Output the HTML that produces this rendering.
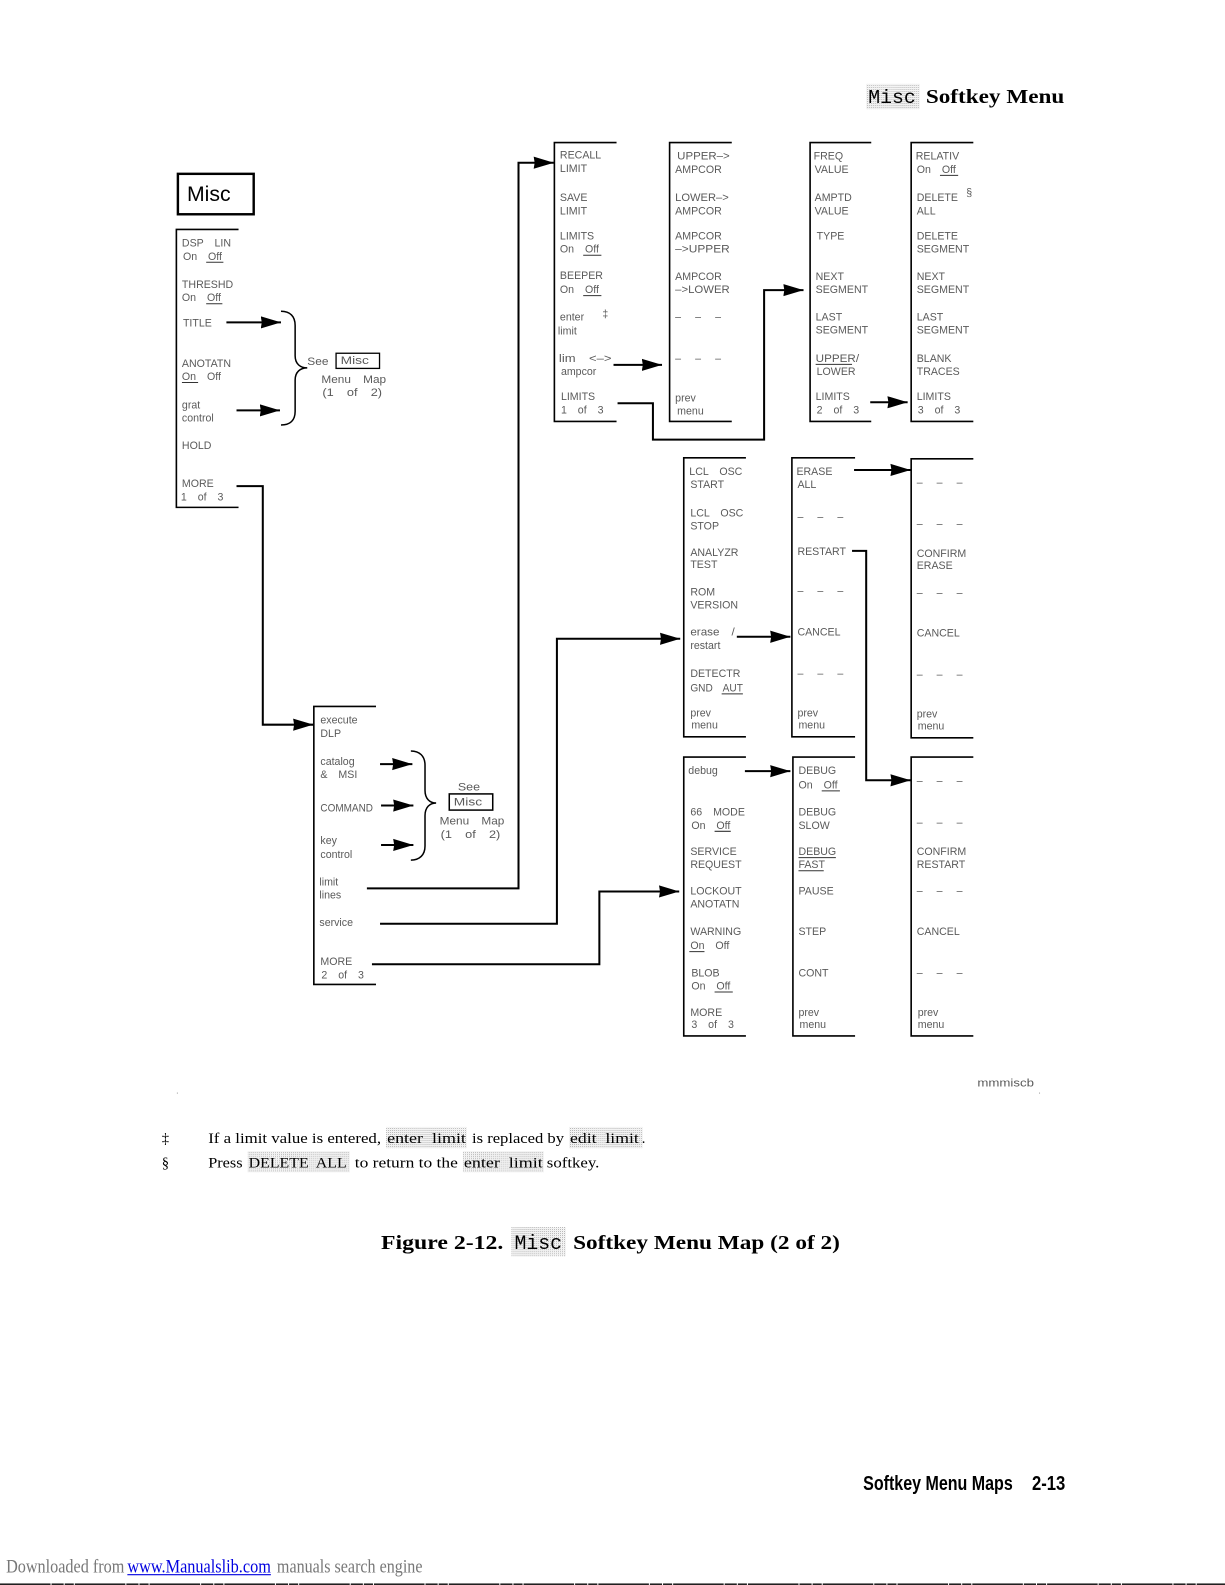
<!DOCTYPE html>
<html><head><meta charset="utf-8"><title>Misc Softkey Menu Map</title>
<style>
html,body{margin:0;padding:0;background:#fff;width:1225px;height:1585px;overflow:hidden}
svg{display:block}
text{white-space:pre}
.l text{font:10.5px "Liberation Sans",sans-serif;fill:#5a5a5a;word-spacing:2.5px}
.l text.d{word-spacing:11px}
.b{fill:none;stroke:#000;stroke-width:1.6}
.u{stroke:#333;stroke-width:1;fill:none}
.a{fill:none;stroke:#000;stroke-width:2;marker-end:url(#h)}
.c{fill:none;stroke:#000;stroke-width:1.5}
.s{font-family:"Liberation Serif",serif;font-size:14.5px;fill:#000}
.t{font-family:"Liberation Serif",serif;font-weight:bold;fill:#000}
.m{font-family:"Liberation Mono",monospace;fill:#000}
</style></head><body>
<svg xmlns="http://www.w3.org/2000/svg" width="1225" height="1585" viewBox="0 0 1212 1568.2">
<defs>
<marker id="h" markerUnits="userSpaceOnUse" markerWidth="21" markerHeight="13" refX="20" refY="6.5" orient="auto"><polygon points="0,0.5 20,6.5 0,12.5 1,6.5" fill="#000"/></marker>
<pattern id="p" width="2" height="2" patternUnits="userSpaceOnUse"><rect width="2" height="2" fill="#fff"/><rect width="1" height="1" fill="#aaa"/><rect x="1" y="1" width="1" height="1" fill="#eee"/></pattern>
</defs>
<rect width="1212" height="1569" fill="#fff"/>

<!-- header -->
<rect x="857" y="83" width="53" height="25" fill="url(#p)"/>
<text class="m" x="859" y="102" font-size="19" textLength="47" lengthAdjust="spacingAndGlyphs">Misc</text>
<text class="t" x="916" y="102" font-size="20" textLength="137" lengthAdjust="spacingAndGlyphs">Softkey Menu</text>

<!-- Misc key -->
<rect x="176" y="172" width="75" height="40" fill="none" stroke="#000" stroke-width="2.4"/>
<text x="185" y="199" font-family="Liberation Sans, sans-serif" font-size="21" fill="#000">Misc</text>

<!-- menu frames -->
<path class="b" d="M236,227H174.5V502H236M610,141H548.5V417H610M724,141H662.5V417H724M862,141H801.5V417H862M963,141H901.5V417H963M738,453H676.5V729H738M846,453H783.5V729H846M963,454H901.5V730H963M738,749H676.5V1025H738M846,749H784.5V1025H846M963,749H901.5V1025H963M372,699H310.5V974H372"/>

<!-- braces -->
<path class="c" d="M278,308C287,308 292,313 292,322V352C292,360 297,364 304,364C297,364 292,368 292,376V407C292,416 287,420.5 278,420.5"/>
<path class="c" d="M406.5,743C415,743 420.5,748 420.5,757V782C420.5,790 425,794.5 431.5,794.5C425,794.5 420.5,799 420.5,807V837C420.5,846 415,851 406.5,851"/>

<!-- See boxes -->
<rect x="332.5" y="349.5" width="43" height="15" fill="none" stroke="#000" stroke-width="1.3"/>
<rect x="444.5" y="785.5" width="43" height="16" fill="none" stroke="#000" stroke-width="1.5"/>

<!-- connectors -->
<path class="a" d="M224,319H278"/>
<path class="a" d="M234,406H277"/>
<path class="a" d="M234,481H260V717H310"/>
<path class="a" d="M363,879H513V161H548"/>
<path class="a" d="M376,914H551V632H673"/>
<path class="a" d="M368,954H593V882H672"/>
<path class="a" d="M607,361H655"/>
<path class="a" d="M611,399H646V435H756V287H795"/>
<path class="a" d="M861,398H898"/>
<path class="a" d="M845,465H901"/>
<path class="a" d="M843,545H857V772H901"/>
<path class="a" d="M729,630H782"/>
<path class="a" d="M737,763H782"/>
<path class="a" d="M376,756H408"/>
<path class="a" d="M377,797H409"/>
<path class="a" d="M377,836H409"/>

<!-- underlines -->
<path class="u" d="M204,259.5H221M204,300.5H220M180,378.5H196M577,252.5H595M577,292.5H595M930,173.5H948M807,360.5H843M714,686.5H735M707,822.5H723M682,941.5H697M707,981.5H725M813,782.5H831M790,848.5H827M790,861.5H815"/>

<g class="l">
<!-- menu 1 -->
<text x="180" y="244">DSP  LIN</text><text x="181" y="257">On  Off</text>
<text x="180" y="285">THRESHD</text><text x="180" y="298">On  Off</text>
<text x="181" y="323">TITLE</text>
<text x="180" y="363">ANOTATN</text><text x="180" y="376">On  Off</text>
<text x="180" y="404">grat</text><text x="180" y="417">control</text>
<text x="180" y="444">HOLD</text>
<text x="180" y="482">MORE</text><text x="179" y="495">1  of  3</text>
<text x="304" y="361" textLength="21" lengthAdjust="spacingAndGlyphs">See</text><text x="337" y="360" textLength="28" lengthAdjust="spacingAndGlyphs">Misc</text>
<text x="318" y="379" textLength="64" lengthAdjust="spacingAndGlyphs">Menu  Map</text><text x="319" y="392" textLength="59" lengthAdjust="spacingAndGlyphs">(1  of  2)</text>
<!-- menu 2 -->
<text x="554" y="157">RECALL</text><text x="554" y="170">LIMIT</text>
<text x="554" y="199">SAVE</text><text x="554" y="212">LIMIT</text>
<text x="554" y="237">LIMITS</text><text x="554" y="250">On  Off</text>
<text x="554" y="276">BEEPER</text><text x="554" y="290">On  Off</text>
<text x="554" y="317">enter</text><text x="596" y="314">‡</text><text x="552" y="331">limit</text>
<text x="553" y="358" textLength="52" lengthAdjust="spacingAndGlyphs">lim  &lt;–&gt;</text><text x="555" y="371">ampcor</text>
<text x="555" y="396">LIMITS</text><text x="555" y="409">1  of  3</text>
<!-- menu 3 -->
<text x="670" y="158" textLength="52" lengthAdjust="spacingAndGlyphs">UPPER–&gt;</text><text x="668" y="171">AMPCOR</text>
<text x="668" y="199" textLength="53" lengthAdjust="spacingAndGlyphs">LOWER–&gt;</text><text x="668" y="212">AMPCOR</text>
<text x="668" y="237">AMPCOR</text><text x="668" y="250" textLength="54" lengthAdjust="spacingAndGlyphs">–&gt;UPPER</text>
<text x="668" y="277">AMPCOR</text><text x="668" y="290" textLength="54" lengthAdjust="spacingAndGlyphs">–&gt;LOWER</text>
<text class="d" x="668" y="317">– – –</text><text class="d" x="668" y="358">– – –</text>
<text x="668" y="397">prev</text><text x="670" y="410">menu</text>
<!-- menu 4 -->
<text x="805" y="158">FREQ</text><text x="806" y="171">VALUE</text>
<text x="806" y="199">AMPTD</text><text x="806" y="212">VALUE</text>
<text x="808" y="237">TYPE</text>
<text x="807" y="277">NEXT</text><text x="807" y="290">SEGMENT</text>
<text x="807" y="317">LAST</text><text x="807" y="330">SEGMENT</text>
<text x="807" y="358" textLength="43" lengthAdjust="spacingAndGlyphs">UPPER/</text><text x="808" y="371">LOWER</text>
<text x="807" y="396">LIMITS</text><text x="808" y="409">2  of  3</text>
<!-- menu 5 -->
<text x="906" y="158">RELATIV</text><text x="907" y="171">On  Off</text>
<text x="907" y="199">DELETE</text><text x="956" y="194">§</text><text x="907" y="212">ALL</text>
<text x="907" y="237">DELETE</text><text x="907" y="250">SEGMENT</text>
<text x="907" y="277">NEXT</text><text x="907" y="290">SEGMENT</text>
<text x="907" y="317">LAST</text><text x="907" y="330">SEGMENT</text>
<text x="907" y="358">BLANK</text><text x="907" y="371">TRACES</text>
<text x="907" y="396">LIMITS</text><text x="908" y="409">3  of  3</text>
<!-- menu 6 -->
<text x="682" y="470">LCL  OSC</text><text x="683" y="483">START</text>
<text x="683" y="511">LCL  OSC</text><text x="683" y="524">STOP</text>
<text x="683" y="550">ANALYZR</text><text x="683" y="562">TEST</text>
<text x="683" y="589">ROM</text><text x="683" y="602">VERSION</text>
<text x="683" y="629" textLength="44" lengthAdjust="spacingAndGlyphs">erase  /</text><text x="683" y="642">restart</text>
<text x="683" y="670">DETECTR</text><text x="683" y="684" textLength="52" lengthAdjust="spacingAndGlyphs">GND  AUT</text>
<text x="683" y="709">prev</text><text x="684" y="721">menu</text>
<!-- menu 7 -->
<text x="788" y="470">ERASE</text><text x="789" y="483">ALL</text>
<text class="d" x="789" y="515">– – –</text>
<text x="789" y="549">RESTART</text>
<text class="d" x="789" y="588">– – –</text>
<text x="789" y="629">CANCEL</text>
<text class="d" x="789" y="670">– – –</text>
<text x="789" y="709">prev</text><text x="790" y="721">menu</text>
<!-- menu 8 -->
<text class="d" x="907" y="481">– – –</text><text class="d" x="907" y="522">– – –</text>
<text x="907" y="551">CONFIRM</text><text x="907" y="563">ERASE</text>
<text class="d" x="907" y="590">– – –</text>
<text x="907" y="630">CANCEL</text>
<text class="d" x="907" y="671">– – –</text>
<text x="907" y="710">prev</text><text x="908" y="722">menu</text>
<!-- menu 9 -->
<text x="681" y="766">debug</text>
<text x="683" y="807">66  MODE</text><text x="684" y="820">On  Off</text>
<text x="683" y="846">SERVICE</text><text x="683" y="859">REQUEST</text>
<text x="683" y="885">LOCKOUT</text><text x="683" y="898">ANOTATN</text>
<text x="683" y="925">WARNING</text><text x="683" y="939">On  Off</text>
<text x="684" y="966">BLOB</text><text x="684" y="979">On  Off</text>
<text x="683" y="1005">MORE</text><text x="684" y="1017">3  of  3</text>
<!-- menu 10 -->
<text x="790" y="766">DEBUG</text><text x="790" y="780">On  Off</text>
<text x="790" y="807">DEBUG</text><text x="790" y="820">SLOW</text>
<text x="790" y="846">DEBUG</text><text x="790" y="859">FAST</text>
<text x="790" y="885">PAUSE</text><text x="790" y="925">STEP</text><text x="790" y="966">CONT</text>
<text x="790" y="1005">prev</text><text x="791" y="1017">menu</text>
<!-- menu 11 -->
<text class="d" x="907" y="776">– – –</text><text class="d" x="907" y="817">– – –</text>
<text x="907" y="846">CONFIRM</text><text x="907" y="859">RESTART</text>
<text class="d" x="907" y="885">– – –</text>
<text x="907" y="925">CANCEL</text>
<text class="d" x="907" y="966">– – –</text>
<text x="908" y="1005">prev</text><text x="908" y="1017">menu</text>
<!-- menu 12 -->
<text x="317" y="716">execute</text><text x="317" y="729">DLP</text>
<text x="317" y="757">catalog</text><text x="317" y="770">&amp;  MSI</text>
<text x="317" y="803" textLength="52" lengthAdjust="spacingAndGlyphs">COMMAND</text>
<text x="317" y="835">key</text><text x="317" y="849">control</text>
<text x="316" y="876">limit</text><text x="316" y="889">lines</text>
<text x="316" y="916">service</text>
<text x="317" y="955">MORE</text><text x="318" y="968">2  of  3</text>
<text x="453" y="782" textLength="22" lengthAdjust="spacingAndGlyphs">See</text><text x="449" y="797" textLength="28" lengthAdjust="spacingAndGlyphs">Misc</text>
<text x="435" y="816" textLength="64" lengthAdjust="spacingAndGlyphs">Menu  Map</text><text x="436" y="829" textLength="59" lengthAdjust="spacingAndGlyphs">(1  of  2)</text>
<text x="967" y="1075" textLength="56" lengthAdjust="spacingAndGlyphs">mmmiscb</text>
</g>
<rect x="175" y="1081" width="1" height="1" fill="#999"/><rect x="1028" y="1081" width="1" height="1" fill="#999"/>

<!-- footnotes -->
<rect x="382" y="1115" width="80" height="21" fill="url(#p)"/>
<rect x="563" y="1115" width="73" height="21" fill="url(#p)"/>
<rect x="245" y="1139" width="101" height="21" fill="url(#p)"/>
<rect x="458" y="1139" width="80" height="21" fill="url(#p)"/>
<text class="s" x="160" y="1131">‡</text>
<text class="s" x="160" y="1155">§</text>
<text class="s" x="206" y="1131" textLength="171" lengthAdjust="spacingAndGlyphs">If a limit value is entered,</text>
<text class="s" x="383" y="1131" textLength="78" lengthAdjust="spacingAndGlyphs">enter  limit</text>
<text class="s" x="467" y="1131" textLength="91" lengthAdjust="spacingAndGlyphs">is replaced by</text>
<text class="s" x="564" y="1131" textLength="68" lengthAdjust="spacingAndGlyphs">edit  limit</text>
<text class="s" x="635" y="1131">.</text>
<text class="s" x="206" y="1155" textLength="34" lengthAdjust="spacingAndGlyphs">Press</text>
<text class="s" x="246" y="1155" textLength="97" lengthAdjust="spacingAndGlyphs">DELETE  ALL</text>
<text class="s" x="351" y="1155" textLength="102" lengthAdjust="spacingAndGlyphs">to return to the</text>
<text class="s" x="459" y="1155" textLength="78" lengthAdjust="spacingAndGlyphs">enter  limit</text>
<text class="s" x="541" y="1155" textLength="52" lengthAdjust="spacingAndGlyphs">softkey.</text>

<!-- caption -->
<rect x="506" y="1214" width="54" height="29" fill="url(#p)"/>
<text class="t" x="377" y="1236" font-size="20" textLength="121" lengthAdjust="spacingAndGlyphs">Figure 2-12.</text>
<text class="m" x="509" y="1236" font-size="20" textLength="47" lengthAdjust="spacingAndGlyphs">Misc</text>
<text class="t" x="567" y="1236" font-size="20" textLength="264" lengthAdjust="spacingAndGlyphs">Softkey Menu Map (2 of 2)</text>

<!-- page footer -->
<text x="854" y="1474" font-family="Liberation Sans, sans-serif" font-weight="bold" font-size="20" fill="#000" textLength="148" lengthAdjust="spacingAndGlyphs">Softkey Menu Maps</text>
<text x="1021" y="1474" font-family="Liberation Sans, sans-serif" font-weight="bold" font-size="20" fill="#000" textLength="33" lengthAdjust="spacingAndGlyphs">2-13</text>

<text x="6" y="1556" font-family="Liberation Serif, serif" font-size="19" fill="#777" textLength="117" lengthAdjust="spacingAndGlyphs">Downloaded from</text>
<text x="126" y="1556" font-family="Liberation Serif, serif" font-size="19" fill="#0000e0" textLength="142" lengthAdjust="spacingAndGlyphs">www.Manualslib.com</text>
<line x1="126" x2="268" y1="1558" y2="1558" stroke="#0000e0" stroke-width="1"/>
<text x="274" y="1556" font-family="Liberation Serif, serif" font-size="19" fill="#777" textLength="144" lengthAdjust="spacingAndGlyphs">manuals search engine</text>
<line x1="0" x2="1212" y1="1567.4" y2="1567.4" stroke="#000" stroke-width="1.4" stroke-dasharray="50 1 12 1 9 1"/>
</svg>
</body></html>
